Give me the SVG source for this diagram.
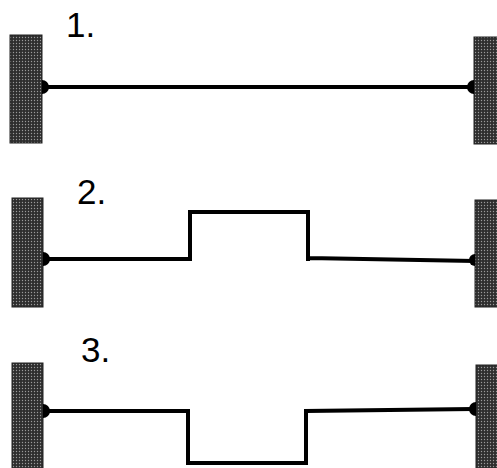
<svg xmlns="http://www.w3.org/2000/svg" width="497" height="468" viewBox="0 0 497 468">
<defs>
<pattern id="tex" width="3" height="3" patternUnits="userSpaceOnUse">
<rect width="3" height="3" fill="#2e2e2e"/>
<circle cx="1.5" cy="1.5" r="0.7" fill="#9a9a9a"/>
</pattern>
</defs>
<style>
.wall{fill:url(#tex);stroke:#222;stroke-width:1}
.line{fill:none;stroke:#000;stroke-width:4;stroke-linejoin:miter}
.dot{fill:#000}
.lbl{font-family:"Liberation Sans",Arial,sans-serif;font-size:35px;fill:#000}
</style>
<g id="label1"><text class="lbl" x="66" y="37">1.</text></g>
<g id="label2"><text class="lbl" x="77" y="204">2.</text></g>
<g id="label3"><text class="lbl" x="81" y="362">3.</text></g>
<g id="wall1L"><rect class="wall" x="10" y="35" width="32" height="108"/></g>
<g id="wall1R"><rect class="wall" x="474" y="37" width="24" height="107"/></g>
<g id="wall2L"><rect class="wall" x="12" y="198" width="31" height="109"/></g>
<g id="wall2R"><rect class="wall" x="475" y="200" width="23" height="107"/></g>
<g id="wall3L"><rect class="wall" x="12" y="363" width="31" height="106"/></g>
<g id="wall3R"><rect class="wall" x="476" y="365" width="22" height="104"/></g>
<g id="connectors">
<path class="line" d="M42 87 H474"/>
<path class="line" d="M43 259 H190 V212 H308 V261 M308 258 L475 261"/>
<path class="line" d="M43 411 H188 V463 H306 V411 L473 409"/>
<path class="dot" d="M42 80 A7 7 0 0 1 42 94 Z"/>
<path class="dot" d="M474 80 A7 7 0 0 0 474 94 Z"/>
<path class="dot" d="M43 252 A7 7 0 0 1 43 266 Z"/>
<path class="dot" d="M475 254 A6 6 0 0 0 475 266 Z"/>
<path class="dot" d="M43 404 A7 7 0 0 1 43 418 Z"/>
<path class="dot" d="M476 402 A7 7 0 0 0 476 416 Z"/>
</g>
</svg>
